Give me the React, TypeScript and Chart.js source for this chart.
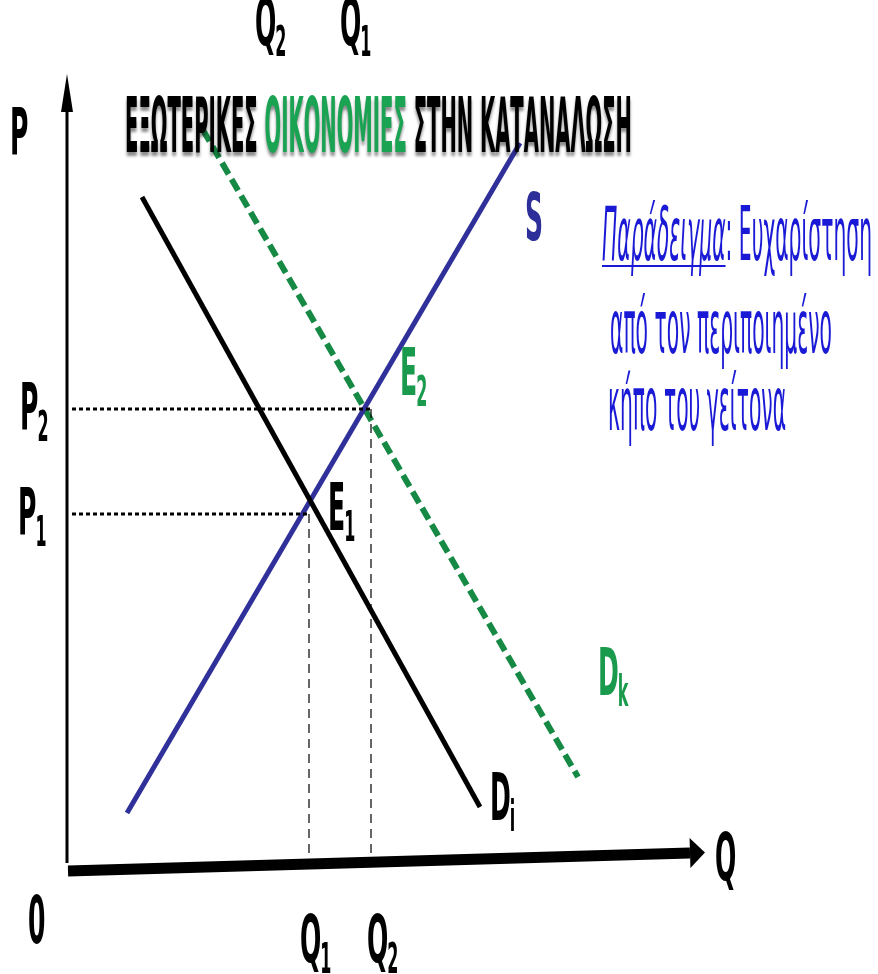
import React, { useEffect, useRef } from "react";
import { Chart, registerables } from "chart.js";

Chart.register(...registerables);

// Coordinates: Q to the right, P upward, origin at the axes' corner.
const supplyS = [{ x: 59, y: 59 }, { x: 452, y: 729 }];
const demandDi = [{ x: 74, y: 675 }, { x: 412, y: 65 }];
const demandDk = [{ x: 135, y: 742 }, { x: 510, y: 95 }];
const qAxisLine = [{ x: 0, y: 1 }, { x: 622, y: 19 }];
const pAxisLine = [{ x: -1, y: 9 }, { x: -1, y: 760 }];
const Q1 = 241;
const Q2 = 303;
const P1 = 358;
const P2 = 463;
const guideStart = 4;
const qAxisAt = (q: number) => 1 + (18 * q) / 622;

const titleParts = [
  { text: "ΕΞΩΤΕΡΙΚΕΣ ", color: "#000000" },
  { text: "ΟΙΚΟΝΟΜΙΕΣ", color: "#1aa352" },
  { text: " ΣΤΗΝ ΚΑΤΑΝΑΛΩΣΗ", color: "#000000" },
];
const exampleHead = "Παράδειγμα";
const exampleLines = [": Ευχαρίστηση", "από τον περιποιημένο", "κήπο του γείτονα"];

// label: main text, subscript, anchor (data units, left/baseline), colour
const labels = [
  { t: "P", s: "", x: -58, y: 717, c: "#000000" },
  { t: "Q", s: "2", x: 187, y: 827, c: "#000000" },
  { t: "Q", s: "1", x: 272, y: 827, c: "#000000" },
  { t: "S", s: "", x: 457, y: 632, c: "#2e2e9a" },
  { t: "E", s: "2", x: 332, y: 477, c: "#1a9a4c" },
  { t: "P", s: "2", x: -48, y: 442, c: "#000000" },
  { t: "P", s: "1", x: -50, y: 337, c: "#000000" },
  { t: "E", s: "1", x: 260, y: 342, c: "#000000" },
  { t: "D", s: "k", x: 530, y: 177, c: "#1a9a4c" },
  { t: "D", s: "i", x: 422, y: 52, c: "#000000" },
  { t: "Q", s: "", x: 647, y: -8, c: "#000000" },
  { t: "0", s: "", x: -40, y: -71, c: "#000000" },
  { t: "Q", s: "1", x: 232, y: -90, c: "#000000" },
  { t: "Q", s: "2", x: 299, y: -90, c: "#000000" },
];

const arrowPlugin = {
  id: "arrows",
  afterDatasetsDraw(chart: any) {
    const ctx = chart.ctx;
    const specs = [
      { idx: 0, len: 15, half: 15 },
      { idx: 1, len: 38, half: 6 },
    ];
    specs.forEach((sp) => {
      const data = chart.data.datasets[sp.idx].data as { x: number; y: number }[];
      const xs = chart.scales.x;
      const ys = chart.scales.y;
      const a = data[data.length - 2];
      const b = data[data.length - 1];
      const ax = xs.getPixelForValue(a.x), ay = ys.getPixelForValue(a.y);
      const bx = xs.getPixelForValue(b.x), by = ys.getPixelForValue(b.y);
      const d = Math.hypot(bx - ax, by - ay);
      const ux = (bx - ax) / d, uy = (by - ay) / d;
      ctx.save();
      ctx.fillStyle = "#000";
      ctx.beginPath();
      ctx.moveTo(bx + ux * sp.len, by + uy * sp.len);
      ctx.lineTo(bx - uy * sp.half, by + ux * sp.half);
      ctx.lineTo(bx + uy * sp.half, by - ux * sp.half);
      ctx.closePath();
      ctx.fill();
      ctx.restore();
    });
  },
};

function drawScaled(ctx: CanvasRenderingContext2D, text: string, px: number, py: number, font: string, color: string, sx: number) {
  ctx.save();
  ctx.font = font;
  const w = ctx.measureText(text).width * sx;
  ctx.translate(px, py);
  ctx.scale(sx, 1);
  ctx.fillStyle = color;
  ctx.textBaseline = "alphabetic";
  ctx.fillText(text, 0, 0);
  ctx.restore();
  return w;
}

const textPlugin = {
  id: "texts",
  afterDraw(chart: any) {
    const ctx: CanvasRenderingContext2D = chart.ctx;
    const xs = chart.scales.x;
    const ys = chart.scales.y;
    const px = (v: number) => xs.getPixelForValue(v);
    const py = (v: number) => ys.getPixelForValue(v);

    // title
    const titleFont = "bold 76px 'DejaVu Sans'";
    ctx.save();
    ctx.font = titleFont;
    const fullW = ctx.measureText(titleParts.map((p) => p.text).join("")).width;
    ctx.restore();
    const tsx = 507 / fullW;
    let tx = px(57);
    const tBase = py(720);
    ctx.save();
    ctx.shadowColor = "rgba(0,0,0,0.45)";
    ctx.shadowOffsetY = 4;
    ctx.shadowBlur = 3;
    titleParts.forEach((p) => {
      tx += drawScaled(ctx, p.text, tx, tBase, titleFont, p.color, tsx);
    });
    ctx.restore();

    // example text
    const blue = "#1a1ad6";
    const exFont = "74px 'DejaVu Sans'";
    const exItal = "oblique 74px 'DejaVu Sans'";
    ctx.save();
    ctx.font = exItal;
    const headW = ctx.measureText(exampleHead).width;
    ctx.font = exFont;
    const restW = ctx.measureText(exampleLines[0]).width;
    ctx.restore();
    const esx = 270 / (headW + restW);
    const ex0 = px(534);
    const b1 = py(612);
    const hw = drawScaled(ctx, exampleHead, ex0, b1, exItal, blue, esx);
    drawScaled(ctx, exampleLines[0], ex0 + hw, b1, exFont, blue, esx);
    ctx.save();
    ctx.strokeStyle = blue;
    ctx.lineWidth = 2;
    ctx.beginPath();
    ctx.moveTo(ex0, b1 + 6);
    ctx.lineTo(ex0 + hw, b1 + 6);
    ctx.stroke();
    ctx.restore();
    drawScaled(ctx, exampleLines[1], px(542), py(519), exFont, blue, esx);
    drawScaled(ctx, exampleLines[2], px(540), py(442), exFont, blue, esx);

    // labels
    const lf = "bold 66px 'DejaVu Sans'";
    const sf = "bold 42px 'DejaVu Sans'";
    const lsx = 0.38;
    labels.forEach((l) => {
      const x0 = px(l.x);
      const y0 = py(l.y);
      const w = drawScaled(ctx, l.t, x0, y0, lf, l.c, lsx);
      if (l.s) drawScaled(ctx, l.s, x0 + w - 1, y0 + 11, sf, l.c, lsx);
    });
  },
};

export default function App() {
  const ref = useRef<HTMLCanvasElement | null>(null);
  useEffect(() => {
    document.body.style.margin = "0";
    if (!ref.current) return;
    const line = (data: any[], color: string, width: number, dash: number[] = []) => ({
      data,
      showLine: true,
      borderColor: color,
      backgroundColor: color,
      borderWidth: width,
      borderDash: dash,
      pointRadius: 0,
      fill: false,
      borderCapStyle: "butt",
    });
    const chart = new Chart(ref.current, {
      type: "scatter",
      data: {
        datasets: [
          line(qAxisLine, "#000000", 11),
          line(pAxisLine, "#000000", 3),
          line([{ x: guideStart, y: P2 }, { x: Q2, y: P2 }], "#000000", 3, [4, 3]),
          line([{ x: guideStart, y: P1 }, { x: Q1, y: P1 }], "#000000", 3, [4, 3]),
          line([{ x: Q2, y: P2 }, { x: Q2, y: qAxisAt(Q2) + 5 }], "#000000", 1.2, [9, 6]),
          line([{ x: Q1, y: P1 }, { x: Q1, y: qAxisAt(Q1) + 5 }], "#000000", 1.2, [9, 6]),
          line(demandDi, "#000000", 5),
          line(supplyS, "#30309a", 5),
          line(demandDk, "#168a45", 6, [13, 6]),
        ] as any,
      },
      options: {
        responsive: false,
        maintainAspectRatio: false,
        animation: false,
        layout: { padding: 0 },
        plugins: { legend: { display: false }, tooltip: { enabled: false } },
        scales: {
          x: { type: "linear", min: -68, max: 810, display: false },
          y: { type: "linear", min: -102, max: 872, display: false },
        },
      },
      plugins: [arrowPlugin, textPlugin],
    });
    return () => chart.destroy();
  }, []);
  return (
    <div style={{ width: 878, height: 974, background: "#fff" }}>
      <canvas ref={ref} width={878} height={974} />
    </div>
  );
}
